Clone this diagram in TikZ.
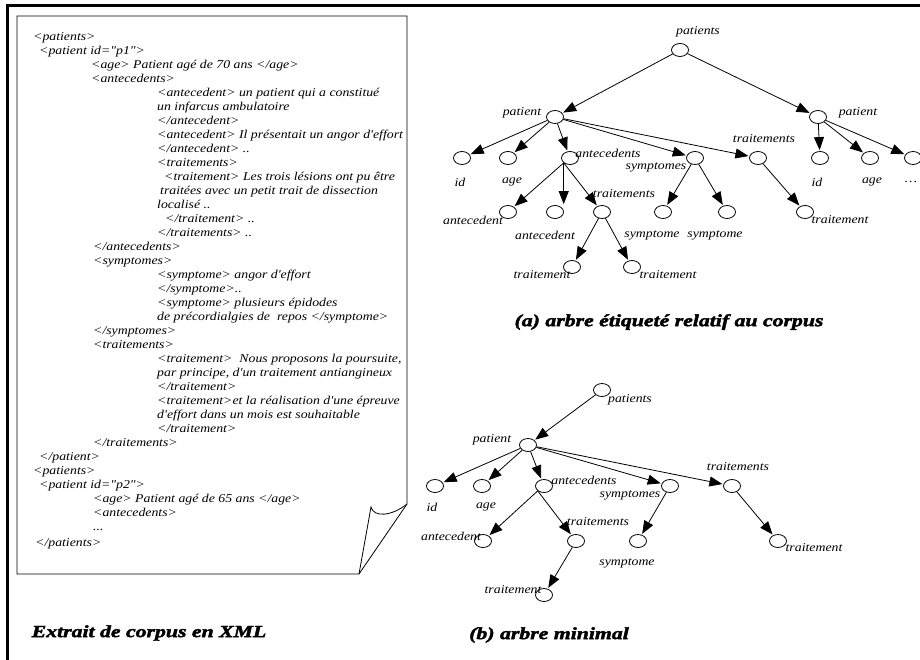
\documentclass[tikz,border=0pt]{standalone}
\usepackage{fontspec}
\setmainfont{Liberation Serif}
\newfontfamily\xmlfont[FakeStretch=1.15]{Liberation Serif}
\newfontfamily\capfont[FakeStretch=1.28,FakeBold=2.5]{Liberation Serif}
\usepackage{tikz}
\usetikzlibrary{arrows.meta,positioning,shapes.geometric}

\tikzset{
  vtx/.style={draw,ellipse,minimum width=17pt,minimum height=13pt,inner sep=0pt,line width=0.8pt},
  lbl/.style={inner sep=0pt,font=\xmlfont\itshape\fontsize{12}{14}\selectfont},
  arr/.style={-{Triangle[length=13pt,width=10pt]},line width=0.8pt,shorten >=1pt},
  captxt/.style={inner sep=0pt,font=\capfont\bfseries\itshape\fontsize{17}{19}\selectfont},
  xmltext/.style={inner sep=0pt,align=left,font=\xmlfont\itshape\fontsize{12}{14}\selectfont},
}

\begin{document}
\begin{tikzpicture}[x=1pt,y=-1pt]
\useasboundingbox (0,0) rectangle (920,660);
% frame
\draw[line width=3pt] (920,5.5) -- (7.5,5.5) -- (7.5,660);

% the XML page with its curled corner
\draw[line width=0.8pt] (17,16) -- (407,16) -- (407,504) -- (359,574) -- (17,574) -- cycle;
\draw[line width=0.8pt] (359,574) -- (371,507) .. controls (374,518) and (392,516) .. (407,504);
\node[xmltext,anchor=north west] (xml) at (33,32) {%
<patients>\\
\hspace*{6pt}<patient id="p1">\\
\hspace*{58pt}<age> Patient agé de 70 ans </age>\\
\hspace*{58pt}<antecedents>\\
\hspace*{124pt}<antecedent> un patient qui a constitué\\
\hspace*{124pt}un infarcus ambulatoire\\
\hspace*{124pt}</antecedent>\\
\hspace*{124pt}<antecedent> Il présentait un angor d'effort\\
\hspace*{124pt}</antecedent> ..\\
\hspace*{124pt}<traitements>\\
\hspace*{131pt}<traitement> Les trois lésions ont pu être\\
\hspace*{127pt}traitées avec un petit trait de dissection\\
\hspace*{124pt}localisé ..\\
\hspace*{132pt}</traitement> ..\\
\hspace*{124pt}</traitements> ..\\
\hspace*{60pt}</antecedents>\\
\hspace*{60pt}<symptomes>\\
\hspace*{124pt}<symptome> angor d'effort\\
\hspace*{124pt}</symptome>..\\
\hspace*{124pt}<symptome> plusieurs épidodes\\
\hspace*{124pt}de précordialgies de\ \ repos </symptome>\\
\hspace*{60pt}</symptomes>\\
\hspace*{60pt}<traitements>\\
\hspace*{124pt}<traitement>\ \ Nous proposons la poursuite,\\
\hspace*{124pt}par principe, d'un traitement antiangineux\\
\hspace*{124pt}</traitement>\\
\hspace*{124pt}<traitement>et la réalisation d'une épreuve\\
\hspace*{124pt}d'effort dans un mois est souhaitable\\
\hspace*{124pt}</traitement>\\
\hspace*{60pt}</traitements>\\
\hspace*{6pt}</patient>\\
<patients>\\
\hspace*{6pt}<patient id="p2">\\
\hspace*{60pt}<age> Patient agé de 65 ans </age>\\
\hspace*{60pt}<antecedents>\\
\hspace*{60pt}...\\[2pt]
\hspace*{2pt}</patients>};
\node[captxt] (capxml) at (149,633) {Extrait de corpus en XML};

% (a) tree
\node[vtx] (a0) at (680,50) {};
\node[vtx] (a1) at (555,117) {};
\node[vtx] (a2) at (818,117) {};
\node[vtx] (a11) at (462,158) {};
\node[vtx] (a12) at (508,158) {};
\node[vtx] (a13) at (570,158) {};
\node[vtx] (a14) at (695,158) {};
\node[vtx] (a15) at (758,158) {};
\node[vtx] (a21) at (820,158) {};
\node[vtx] (a22) at (870,158) {};
\node[vtx] (a23) at (913,158) {};
\node[vtx] (a131) at (508,212) {};
\node[vtx] (a132) at (555,212) {};
\node[vtx] (a133) at (602,212) {};
\node[vtx] (a141) at (663,212) {};
\node[vtx] (a142) at (727,212) {};
\node[vtx] (a151) at (805,212) {};
\node[vtx] (a1331) at (572,267) {};
\node[vtx] (a1332) at (632,267) {};

\node[lbl] (la0) at (698,32) {patients};
\node[lbl] (la1) at (522,113) {patient};
\node[lbl] (la2) at (858,113) {patient};
\node[lbl] (la11) at (460,182) {id};
\node[lbl] (la12) at (512,182) {age};
\node[lbl] (la13) at (608,153) {antecedents};
\node[lbl] (la14) at (656,167) {symptomes};
\node[lbl] (la15) at (764,139) {traitements};
\node[lbl] (la21) at (817,182) {id};
\node[lbl] (la22) at (872,182) {age};
\node[lbl] (la23) at (911,182) {\dots};
\node[lbl] (la131) at (473,220) {antecedent};
\node[lbl] (la132) at (545,235) {antecedent};
\node[lbl] (la133) at (624,194) {traitements};
\node[lbl] (la141) at (652,235) {symptome};
\node[lbl] (la142) at (715,235) {symptome};
\node[lbl] (la151) at (840,220) {traitement};
\node[lbl] (la1331) at (542,275) {traitement};
\node[lbl] (la1332) at (668,275) {traitement};

\draw[arr] (a0) -- (a1);
\draw[arr] (a0) -- (a2);
\draw[arr] (a1) -- (a11);
\draw[arr] (a1) -- (a12);
\draw[arr] (a1) -- (a13);
\draw[arr] (a1) -- (a14);
\draw[arr] (a1) -- (a15);
\draw[arr] (a2) -- (a21);
\draw[arr] (a2) -- (a22);
\draw[arr] (a2) -- (a23);
\draw[arr] (a13.south west) -- (a131);
\draw[arr] (a13.south west) -- (a13.south west |- a132.north);
\draw[arr] (a13.south west) -- (a133);
\draw[arr] (a14) -- (a141);
\draw[arr] (a14) -- (a142);
\draw[arr] (a15) -- (a151);
\draw[arr] (a133) -- (a1331);
\draw[arr] (a133) -- (a1332);
\node[captxt] (capa) at (669,322) {(a) arbre étiqueté relatif au corpus};

% (b) tree
\node[vtx] (b0) at (602,390) {};
\node[vtx] (b1) at (528,445) {};
\node[vtx] (b11) at (435,486) {};
\node[vtx] (b12) at (482,486) {};
\node[vtx] (b13) at (544,486) {};
\node[vtx] (b14) at (670,486) {};
\node[vtx] (b15) at (732,486) {};
\node[vtx] (b131) at (483,541) {};
\node[vtx] (b132) at (576,541) {};
\node[vtx] (b141) at (638,541) {};
\node[vtx] (b151) at (778,541) {};
\node[vtx] (b1321) at (544,595) {};

\node[lbl] (lb0) at (630,400) {patients};
\node[lbl] (lb1) at (492,440) {patient};
\node[lbl] (lb11) at (432,507) {id};
\node[lbl] (lb12) at (486,507) {age};
\node[lbl] (lb13) at (584,480) {antecedents};
\node[lbl] (lb14) at (630,495) {symptomes};
\node[lbl] (lb15) at (738,467) {traitements};
\node[lbl] (lb131) at (451,536) {antecedent};
\node[lbl] (lb132) at (598,522) {traitements};
\node[lbl] (lb141) at (627,563) {symptome};
\node[lbl] (lb151) at (814,548) {traitement};
\node[lbl] (lb1321) at (513,590) {traitement};

\draw[arr] (b0) -- (b1);
\draw[arr] (b1) -- (b11);
\draw[arr] (b1) -- (b12);
\draw[arr] (b1) -- (b13);
\draw[arr] (b1) -- (b14);
\draw[arr] (b1) -- (b15);
\draw[arr] (b13.south west) -- (b131);
\draw[arr] (b13.south west) -- (b132);
\draw[arr] (b14) -- (b141);
\draw[arr] (b15) -- (b151);
\draw[arr] (b132) -- (b1321);
\node[captxt] (capb) at (549,635) {(b) arbre minimal};
\end{tikzpicture}
\end{document}
